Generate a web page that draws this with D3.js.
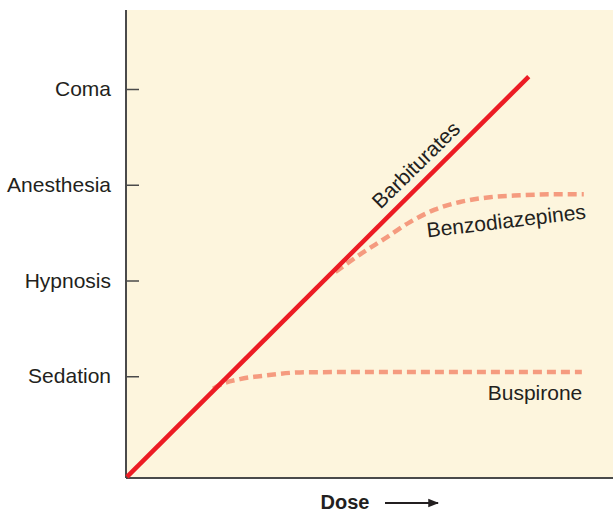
<!DOCTYPE html>
<html>
<head>
<meta charset="utf-8">
<script src="https://cdn.jsdelivr.net/npm/d3@7"></script>
<style>
  body { margin: 0; background: #fff; }
  text { font-family: "Liberation Sans", Arial, sans-serif; fill: #231f20; }
</style>
</head>
<body>
<div id="chart"></div>
<script>
// levels of CNS depression on the y axis
const levels = ["Sedation", "Hypnosis", "Anesthesia", "Coma"];

// dose (0-100) vs effect level (1 = Sedation ... 4 = Coma)
const barbiturates = [
  { dose: 0.2, effect: -0.05 },
  { dose: 82.7, effect: 4.13 }
];
const benzodiazepines = [
  { dose: 43.0, effect: 2.09 },
  { dose: 48.0, effect: 2.27 },
  { dose: 53.2, effect: 2.44 },
  { dose: 58.3, effect: 2.61 },
  { dose: 63.4, effect: 2.74 },
  { dose: 68.6, effect: 2.82 },
  { dose: 74.7, effect: 2.87 },
  { dose: 80.9, effect: 2.89 },
  { dose: 87.1, effect: 2.90 },
  { dose: 94.0, effect: 2.90 }
];
const buspirone = [
  { dose: 17.9, effect: 0.87 },
  { dose: 19.3, effect: 0.91 },
  { dose: 23.4, effect: 0.97 },
  { dose: 29.0, effect: 1.01 },
  { dose: 35.7, effect: 1.04 },
  { dose: 50.0, effect: 1.045 },
  { dose: 93.6, effect: 1.045 }
];

const W = 613, H = 513;
const margin = { top: 10, right: 0, bottom: 35, left: 126 };

const svg = d3.select("#chart").append("svg")
    .attr("width", W)
    .attr("height", H);

// scales
const x = d3.scaleLinear().domain([0, 100]).range([margin.left, W - margin.right]);
const y = d3.scaleLinear().domain([0, 4]).range([472, 89]);
const yBottom = H - margin.bottom;

// plot background
svg.append("rect")
    .attr("x", margin.left)
    .attr("y", margin.top)
    .attr("width", W - margin.left - margin.right)
    .attr("height", yBottom - margin.top)
    .attr("fill", "#fdf5dd");

// y axis with named levels
const yAxis = d3.axisLeft(y)
    .tickValues([1, 2, 3, 4])
    .tickFormat(d => levels[d - 1])
    .tickSize(-13)
    .tickPadding(15);

const gy = svg.append("g")
    .attr("transform", `translate(${margin.left},0)`)
    .call(yAxis);
gy.select(".domain").remove();
gy.selectAll(".tick line").attr("stroke", "#4a4a4a").attr("stroke-width", 1.5);
gy.selectAll(".tick text")
    .attr("x", -15)
    .style("font-size", "21px")
    .style("font-family", "'Liberation Sans', Arial, sans-serif")
    .style("fill", "#231f20");

// axis lines
svg.append("line")
    .attr("x1", margin.left).attr("x2", margin.left)
    .attr("y1", margin.top).attr("y2", yBottom)
    .attr("stroke", "#4a4a4a").attr("stroke-width", 2);
svg.append("line")
    .attr("x1", margin.left).attr("x2", W)
    .attr("y1", yBottom).attr("y2", yBottom)
    .attr("stroke", "#4a4a4a").attr("stroke-width", 2);

const line = d3.line()
    .x(d => x(d.dose))
    .y(d => y(d.effect))
    .curve(d3.curveMonotoneX);

// dashed curves
[benzodiazepines, buspirone].forEach(series => {
  svg.append("path")
      .datum(series)
      .attr("d", line)
      .attr("fill", "none")
      .attr("stroke", "#f59b7f")
      .attr("stroke-width", 4.5)
      .attr("stroke-dasharray", "9,5");
});

// barbiturates solid line
svg.append("path")
    .datum(barbiturates)
    .attr("d", d3.line().x(d => x(d.dose)).y(d => y(d.effect)))
    .attr("fill", "none")
    .attr("stroke", "#ec1c24")
    .attr("stroke-width", 4.5);

// curve labels
svg.append("text")
    .attr("transform", "translate(421,170) rotate(-44.5)")
    .attr("text-anchor", "middle")
    .style("font-size", "21px")
    .text("Barbiturates");

svg.append("text")
    .attr("transform", "translate(507,228) rotate(-6.8)")
    .attr("text-anchor", "middle")
    .style("font-size", "21px")
    .text("Benzodiazepines");

svg.append("text")
    .attr("x", 535)
    .attr("y", 400)
    .attr("text-anchor", "middle")
    .style("font-size", "21px")
    .text("Buspirone");

// x axis title with arrow
svg.append("text")
    .attr("x", 345)
    .attr("y", 509)
    .attr("text-anchor", "middle")
    .style("font-size", "20px")
    .style("font-weight", "bold")
    .text("Dose");

svg.append("defs").append("marker")
    .attr("id", "arrow")
    .attr("viewBox", "0 0 10 10")
    .attr("refX", 9).attr("refY", 5)
    .attr("markerWidth", 6).attr("markerHeight", 6)
    .attr("markerUnits", "strokeWidth")
    .attr("orient", "auto")
    .append("path")
    .attr("d", "M0,1 L10,5 L0,9 Z")
    .attr("fill", "#231f20");

svg.append("line")
    .attr("x1", 385).attr("x2", 438)
    .attr("y1", 503).attr("y2", 503)
    .attr("stroke", "#231f20")
    .attr("stroke-width", 1.8)
    .attr("marker-end", "url(#arrow)");
</script>
</body>
</html>
